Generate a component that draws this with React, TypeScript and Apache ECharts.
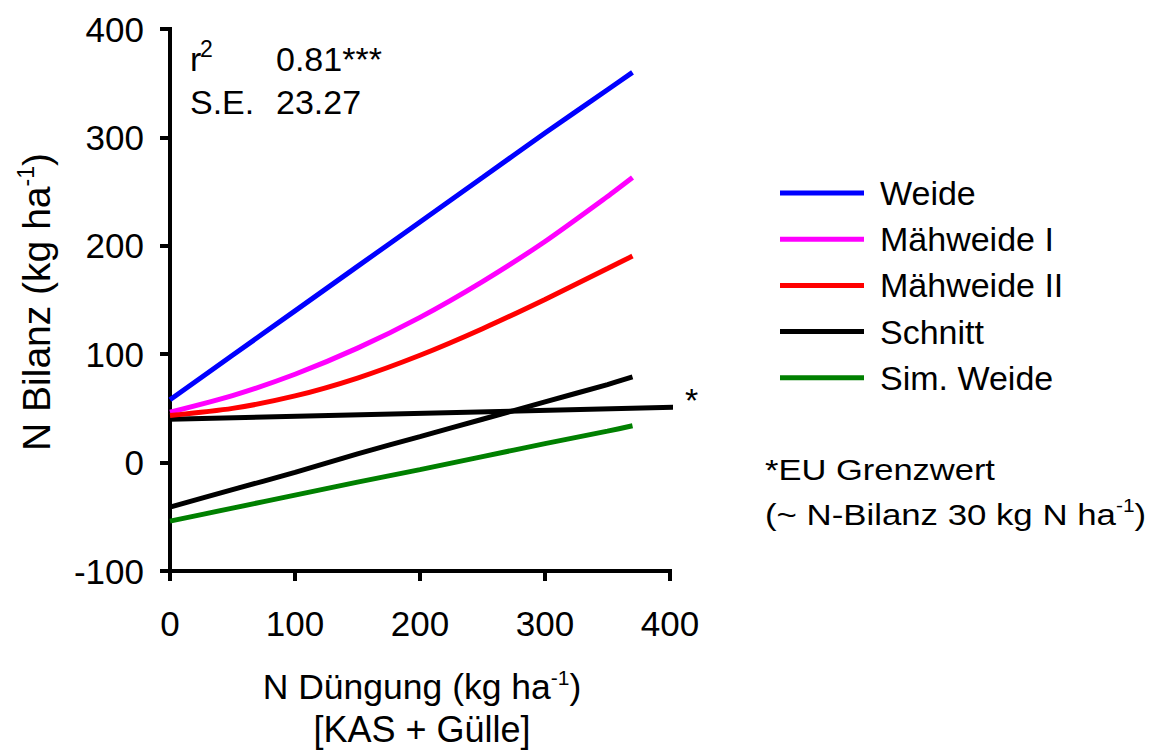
import React, { useEffect, useRef } from "react";
import * as echarts from "echarts";

// N-Düngung (kg N/ha) at which the regression curves are evaluated
const dungung = [0, 50, 100, 150, 200, 250, 300, 350, 370];

// N-Bilanz (kg N/ha) per system
const weide = [58, 99, 140, 181, 222, 263, 304, 344, 360];
const maehweideI = [46.5, 61.8, 81.5, 105.6, 134, 167, 204, 245.5, 263];
const maehweideII = [43.5, 50, 61.5, 78, 99, 123.5, 150.5, 179, 190.5];
const schnitt = [-41, -25, -9, 8, 24, 40, 56, 72, 79];
const simWeide = [-54, -42, -30, -18, -6.5, 5.5, 17.5, 29, 34];

// EU limit reference line
const grenzX = [0, 403];
const grenzY = [40, 51];

const seriesNames = ["Weide", "Mähweide I", "Mähweide II", "Schnitt", "Sim. Weide"];
const seriesColors = ["#0000FF", "#FF00FF", "#FF0000", "#000000", "#008000"];
const seriesValues = [weide, maehweideI, maehweideII, schnitt, simWeide];

const xTicks = [0, 100, 200, 300, 400];
const yTicks = [-100, 0, 100, 200, 300, 400];

const FONT = "'Liberation Sans', Arial, sans-serif";

export default function App() {
  const ref = useRef<HTMLDivElement>(null);

  useEffect(() => {
    if (!ref.current) return;
    const chart = echarts.init(ref.current, undefined, { renderer: "svg" });

    const lineSeries = seriesNames.map((name, i) => ({
      name,
      type: "line",
      data: dungung.map((x, k) => [x, seriesValues[i][k]]),
      smooth: 0.25,
      showSymbol: false,
      symbol: "none",
      lineStyle: { color: seriesColors[i], width: 5 },
      itemStyle: { color: seriesColors[i] },
      z: 3,
    }));

    const txt = (text: string, x: number, y: number, size: number, extra: any = {}) => ({
      type: "text",
      x,
      y,
      ...extra,
      style: { text, fontSize: size, fontFamily: FONT, fill: "#000", verticalAlign: "middle", ...(extra.style || {}) },
    });

    chart.setOption({
      animation: false,
      backgroundColor: "#ffffff",
      textStyle: { fontFamily: FONT, color: "#000" },
      grid: { left: 170, top: 29, width: 500, height: 542, containLabel: false },
      xAxis: {
        type: "value",
        min: xTicks[0],
        max: xTicks[xTicks.length - 1],
        interval: 100,
        axisLine: { show: true, onZero: false, lineStyle: { color: "#000", width: 4, cap: "square" } },
        axisTick: { show: true, inside: false, length: 10, lineStyle: { color: "#000", width: 4 } },
        axisLabel: { fontSize: 35, color: "#000", margin: 35, fontFamily: FONT },
        splitLine: { show: false },
      },
      yAxis: {
        type: "value",
        min: yTicks[0],
        max: yTicks[yTicks.length - 1],
        interval: 100,
        axisLine: { show: true, onZero: false, lineStyle: { color: "#000", width: 4, cap: "square" } },
        axisTick: { show: true, inside: false, length: 10, lineStyle: { color: "#000", width: 4 } },
        axisLabel: { fontSize: 35, color: "#000", margin: 26, fontFamily: FONT },
        splitLine: { show: false },
      },
      legend: {
        data: seriesNames,
        orient: "vertical",
        left: 775,
        top: 171,
        icon: "rect",
        itemWidth: 84,
        itemHeight: 5,
        itemGap: 12.2,
        formatter: (n: string) => `{t|${n}}`,
        textStyle: {
          rich: {
            t: { fontSize: 34, lineHeight: 36, color: "#000", fontFamily: FONT, padding: [0, 0, 0, 11] },
          },
        },
      },
      series: [
        ...lineSeries,
        {
          name: "Grenzwert",
          type: "line",
          data: grenzX.map((x, k) => [x, grenzY[k]]),
          showSymbol: false,
          symbol: "none",
          lineStyle: { color: "#000", width: 5 },
          z: 2,
        },
      ],
      graphic: [
        // regression statistics
        txt("r", 190, 59, 34),
        txt("2", 200, 49, 23),
        txt("0.81***", 276, 59, 34),
        txt("S.E.", 190, 102, 34),
        txt("23.27", 276, 102, 34),
        // marker at the end of the limit line
        txt("*", 685, 400, 34),
        // footnote
        txt("*EU Grenzwert", 765, 470, 30, { scaleX: 1.15 }),
        {
          type: "text",
          x: 765,
          y: 515,
          scaleX: 1.16,
          style: {
            text: "{m|(~ N-Bilanz 30 kg N ha}{s|-1}{m|)}",
            verticalAlign: "middle",
            rich: {
              m: { fontSize: 30, lineHeight: 36, fontFamily: FONT, fill: "#000", verticalAlign: "middle" },
              s: { fontSize: 18, lineHeight: 18, fontFamily: FONT, fill: "#000", verticalAlign: "top" },
            },
          },
        },
        // axis titles
        {
          type: "text",
          x: 36,
          y: 302,
          rotation: Math.PI / 2,
          style: {
            text: "{m|N Bilanz (kg ha}{s|-1}{m|)}",
            align: "center",
            verticalAlign: "middle",
            rich: {
              m: { fontSize: 39, lineHeight: 44, fontFamily: FONT, fill: "#000", verticalAlign: "middle" },
              s: { fontSize: 23, lineHeight: 23, fontFamily: FONT, fill: "#000", verticalAlign: "top" },
            },
          },
        },
        {
          type: "text",
          x: 422,
          y: 687,
          style: {
            text: "{m|N Düngung (kg ha}{s|-1}{m|)}",
            align: "center",
            verticalAlign: "middle",
            rich: {
              m: { fontSize: 35.5, lineHeight: 40, fontFamily: FONT, fill: "#000", verticalAlign: "middle" },
              s: { fontSize: 21, lineHeight: 21, fontFamily: FONT, fill: "#000", verticalAlign: "top" },
            },
          },
        },
        txt("[KAS + Gülle]", 422, 729, 36, { style: { align: "center" } }),
      ],
    });

    return () => chart.dispose();
  }, []);

  return (
    <div
      ref={ref}
      style={{ position: "fixed", left: 0, top: 0, width: "1153px", height: "753px", background: "#fff" }}
    />
  );
}
